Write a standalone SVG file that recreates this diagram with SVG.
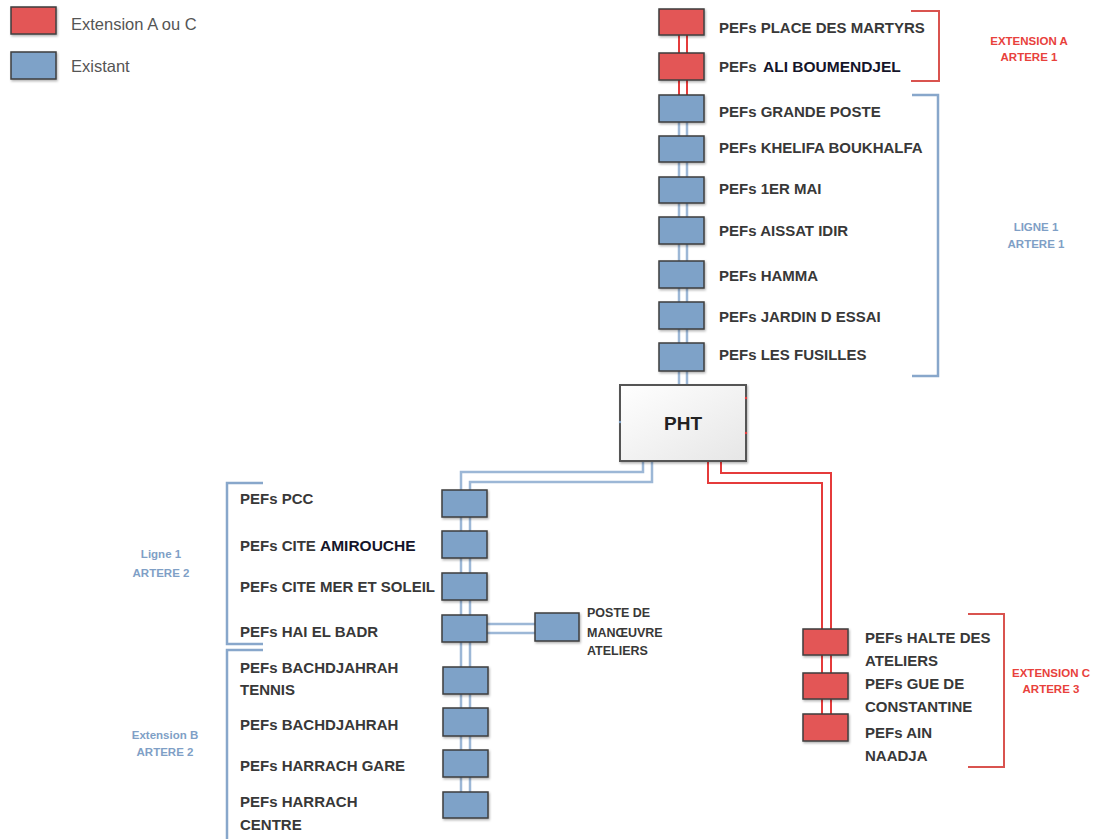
<svg xmlns="http://www.w3.org/2000/svg" width="1093" height="839" viewBox="0 0 1093 839">
  <defs>
    <linearGradient id="phtFill" x1="0" y1="0" x2="1" y2="1">
      <stop offset="0" stop-color="#ffffff"/>
      <stop offset="1" stop-color="#e6e6e6"/>
    </linearGradient>
    <filter id="shadow" x="-10%" y="-10%" width="130%" height="140%">
      <feDropShadow dx="1" dy="1.5" stdDeviation="0.8" flood-color="#000" flood-opacity="0.3"/>
    </filter>
  </defs>
  <style>
    .blue { fill: #7ea2c8; stroke: #3e3e3e; stroke-width: 1.5; filter: url(#shadow); }
    .red { fill: #e35757; stroke: #3e3e3e; stroke-width: 1.5; filter: url(#shadow); }
    .lbl { font-family: "Liberation Sans", Arial, sans-serif; font-weight: bold; font-size: 15px; fill: #383838; }
    .big { font-family: "Liberation Sans", Arial, sans-serif; font-weight: bold; font-size: 15.5px; fill: #15152a; }
    .small { font-family: "Liberation Sans", Arial, sans-serif; font-weight: bold; font-size: 12.5px; fill: #383838; }
    .leg { font-family: "Liberation Sans", Arial, sans-serif; font-size: 16.5px; fill: #555555; }
    .tagR { font-family: "Liberation Sans", Arial, sans-serif; font-weight: bold; font-size: 11.5px; fill: #e8413c; text-anchor: middle; }
    .tagB { font-family: "Liberation Sans", Arial, sans-serif; font-weight: bold; font-size: 11.5px; fill: #7f9fc6; text-anchor: middle; }
    .cb { fill: none; stroke: #9cb7d6; stroke-width: 2.5; }
    .cr { fill: none; stroke: #e53b3b; stroke-width: 2; }
    .brB { fill: none; stroke: #88a7cb; stroke-width: 2.5; }
    .brR { fill: none; stroke: #d9534f; stroke-width: 2; }
  </style>

  <!-- legend -->
  <g id="legend">
    <rect class="red" x="11" y="7" width="45" height="27"/>
    <text class="leg" x="71" y="30">Extension A ou C</text>
    <rect class="blue" x="11" y="52" width="45" height="27"/>
    <text class="leg" x="71" y="72">Existant</text>
  </g>

  <!-- connectors -->
  <g id="connectors">
    <!-- artère 1 (top column) -->
    <path class="cr" d="M679 35V53M687 35V53M679 80V95M687 80V95"/>
    <path class="cb" d="M679 122V136M687 122V136M679 162V177M687 162V177M679 203V217M687 203V217M679 244V261M687 244V261M679 288V302M687 288V302M679 329V343M687 329V343M679 371V385M687 371V385"/>
    <!-- artère 2 (left column) -->
    <path class="cb" d="M643 461V472H461V490M652 461V482H470V490"/>
    <path class="cb" d="M461 517V531M470 517V531M461 558V573M470 558V573M461 600V615M470 600V615M461 642V667M470 642V667M461 694V708M470 694V708M461 736V750M470 736V750M461 777V792M470 777V792"/>
    <path class="cb" d="M487 624H535M487 633H535"/>
    <!-- artère 3 (extension C) -->
    <path class="cr" d="M708 461V483H822V629M721 461V473H831V629"/>
    <path class="cr" d="M822 655V673M831 655V673M822 699V714M831 699V714"/>
  </g>

  <!-- PHT -->
  <g id="pht">
    <rect x="620" y="385" width="126" height="76" fill="url(#phtFill)" stroke="#555555" stroke-width="2" filter="url(#shadow)"/>
    <text x="683" y="430" text-anchor="middle" font-family="Liberation Sans, Arial, sans-serif" font-weight="bold" font-size="19" fill="#222222">PHT</text>
    <circle cx="620" cy="422" r="1.2" fill="#7ea2c8"/>
    <circle cx="746" cy="398" r="1.2" fill="#e53b3b"/>
    <circle cx="746" cy="433" r="1.2" fill="#e53b3b"/>
  </g>

  <!-- artère 1 stations -->
  <g id="pefs-place-des-martyrs"><rect class="red" x="659" y="9" width="45" height="26"/><text class="lbl" x="719" y="33">PEFs PLACE DES MARTYRS</text></g>
  <g id="pefs-ali-boumendjel"><rect class="red" x="659" y="53" width="45" height="27"/><text class="lbl" x="719" y="72">PEFs</text><text class="big" x="763" y="72">ALI BOUMENDJEL</text></g>
  <g id="pefs-grande-poste"><rect class="blue" x="659" y="95" width="45" height="27"/><text class="lbl" x="719" y="117">PEFs GRANDE POSTE</text></g>
  <g id="pefs-khelifa-boukhalfa"><rect class="blue" x="659" y="136" width="45" height="26"/><text class="lbl" x="719" y="153">PEFs KHELIFA BOUKHALFA</text></g>
  <g id="pefs-1er-mai"><rect class="blue" x="659" y="177" width="45" height="26"/><text class="lbl" x="719" y="194">PEFs 1ER MAI</text></g>
  <g id="pefs-aissat-idir"><rect class="blue" x="659" y="217" width="45" height="27"/><text class="lbl" x="719" y="236">PEFs AISSAT IDIR</text></g>
  <g id="pefs-hamma"><rect class="blue" x="659" y="261" width="45" height="27"/><text class="lbl" x="719" y="281">PEFs HAMMA</text></g>
  <g id="pefs-jardin-d-essai"><rect class="blue" x="659" y="302" width="45" height="27"/><text class="lbl" x="719" y="322">PEFs JARDIN D ESSAI</text></g>
  <g id="pefs-les-fusilles"><rect class="blue" x="659" y="343" width="45" height="28"/><text class="lbl" x="719" y="360">PEFs LES FUSILLES</text></g>

  <!-- artère 2 stations -->
  <g id="pefs-pcc"><rect class="blue" x="442" y="490" width="45" height="27"/><text class="lbl" x="240" y="504">PEFs PCC</text></g>
  <g id="pefs-cite-amirouche"><rect class="blue" x="442" y="531" width="45" height="27"/><text class="lbl" x="240" y="551">PEFs CITE</text><text class="big" x="320" y="551">AMIROUCHE</text></g>
  <g id="pefs-cite-mer-et-soleil"><rect class="blue" x="442" y="573" width="45" height="27"/><text class="lbl" x="240" y="592">PEFs CITE MER ET SOLEIL</text></g>
  <g id="pefs-hai-el-badr"><rect class="blue" x="442" y="615" width="45" height="27"/><text class="lbl" x="240" y="637">PEFs HAI EL BADR</text></g>
  <g id="poste-de-manoeuvre"><rect class="blue" x="535" y="613" width="44" height="28"/><text class="small" x="587" y="617">POSTE DE</text><text class="small" x="587" y="637">MANŒUVRE</text><text class="small" x="587" y="655">ATELIERS</text></g>
  <g id="pefs-bachdjahrah-tennis"><rect class="blue" x="443" y="667" width="45" height="27"/><text class="lbl" x="240" y="673">PEFs BACHDJAHRAH</text><text class="lbl" x="240" y="695">TENNIS</text></g>
  <g id="pefs-bachdjahrah"><rect class="blue" x="443" y="708" width="45" height="28"/><text class="lbl" x="240" y="730">PEFs BACHDJAHRAH</text></g>
  <g id="pefs-harrach-gare"><rect class="blue" x="443" y="750" width="45" height="27"/><text class="lbl" x="240" y="771">PEFs HARRACH GARE</text></g>
  <g id="pefs-harrach-centre"><rect class="blue" x="443" y="792" width="45" height="26"/><text class="lbl" x="240" y="807">PEFs HARRACH</text><text class="lbl" x="240" y="830">CENTRE</text></g>

  <!-- artère 3 stations -->
  <g id="pefs-halte-des-ateliers"><rect class="red" x="803" y="629" width="45" height="26"/><text class="lbl" x="865" y="643">PEFs HALTE DES</text><text class="lbl" x="865" y="666">ATELIERS</text></g>
  <g id="pefs-gue-de-constantine"><rect class="red" x="803" y="673" width="45" height="26"/><text class="lbl" x="865" y="689">PEFs GUE DE</text><text class="lbl" x="865" y="712">CONSTANTINE</text></g>
  <g id="pefs-ain-naadja"><rect class="red" x="803" y="714" width="45" height="27"/><text class="lbl" x="865" y="738">PEFs AIN</text><text class="lbl" x="865" y="761">NAADJA</text></g>

  <!-- section brackets -->
  <g id="bracket-extension-a">
    <path class="brR" d="M911 11H939V81H911"/>
    <text class="tagR" x="1029" y="45">EXTENSION A</text>
    <text class="tagR" x="1029" y="61">ARTERE 1</text>
  </g>
  <g id="bracket-ligne1-artere1">
    <path class="brB" d="M912 95H938V376H912"/>
    <text class="tagB" x="1036" y="231">LIGNE 1</text>
    <text class="tagB" x="1036" y="248">ARTERE 1</text>
  </g>
  <g id="bracket-ligne1-artere2">
    <path class="brB" d="M263 483H227V644H263"/>
    <text class="tagB" x="161" y="558">Ligne 1</text>
    <text class="tagB" x="161" y="577">ARTERE 2</text>
  </g>
  <g id="bracket-extension-b">
    <path class="brB" d="M263 650H227V839"/>
    <text class="tagB" x="165" y="739">Extension B</text>
    <text class="tagB" x="165" y="756">ARTERE 2</text>
  </g>
  <g id="bracket-extension-c">
    <path class="brR" d="M968 614H1004V767H968"/>
    <text class="tagR" x="1051" y="677">EXTENSION C</text>
    <text class="tagR" x="1051" y="693">ARTERE 3</text>
  </g>
</svg>
